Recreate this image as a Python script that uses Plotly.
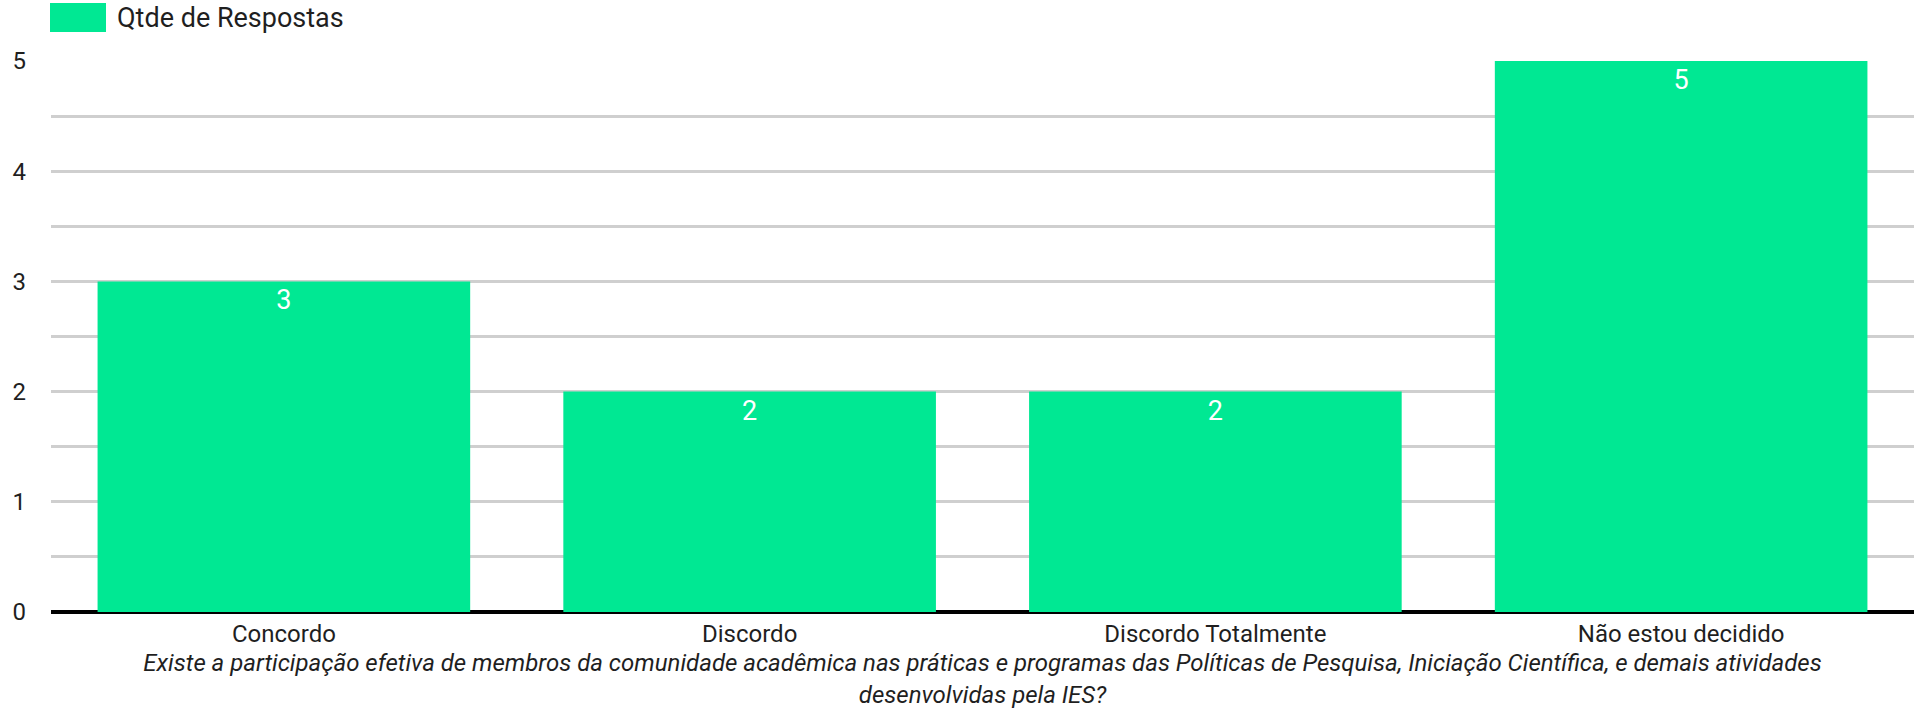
import plotly.graph_objects as go

categories = ["Concordo", "Discordo", "Discordo Totalmente", "Não estou decidido"]
values = [3, 2, 2, 5]
series_name = "Qtde de Respostas"
x_title = ("Existe a participação efetiva de membros da comunidade acadêmica nas práticas e programas das "
           "Políticas de Pesquisa, Iniciação Científica, e demais atividades<br>desenvolvidas pela IES?")
y_ticks = [0, 1, 2, 3, 4, 5]

GREEN = "#00e893"
FONT = "Roboto"
TXT = "#1f1f1f"

W, H = 1914, 711
L, R, T, B = 51, 0, 61, 99
PW, PH = W - L - R, H - T - B


def px_x(x):
    return (x - L) / PW


def px_y(y):
    return (H - B - y) / PH


fig = go.Figure()
fig.add_trace(go.Bar(
    x=categories, y=values, name=series_name,
    marker=dict(color=GREEN, line=dict(width=0)),
    text=[str(v) for v in values], textposition="inside", insidetextanchor="end",
    textfont=dict(color="white", size=27, family=FONT),
    showlegend=False,
))

fig.update_layout(
    width=W, height=H,
    margin=dict(l=L, r=R, t=T, b=B, autoexpand=False),
    paper_bgcolor="white", plot_bgcolor="white",
    font=dict(family=FONT, size=24, color=TXT),
    bargap=0.2,
    xaxis=dict(
        showgrid=False, ticks="", tickfont=dict(size=24, color=TXT), automargin=False,
        ticklabelstandoff=5,
        title=dict(text=x_title, font=dict(size=24, color=TXT, style="italic"), standoff=7),
    ),
    yaxis=dict(
        range=[0, 5], tickvals=y_ticks, showgrid=True, gridcolor="#cfcfcf", gridwidth=3,
        minor=dict(dtick=0.5, showgrid=True, gridcolor="#cfcfcf", gridwidth=3),
        zeroline=True, zerolinecolor="#000000", zerolinewidth=3.5, automargin=False,
        ticklabelstandoff=24, tickfont=dict(size=24, color=TXT),
    ),
    shapes=[dict(type="rect", xref="paper", yref="paper", x0=px_x(50), x1=px_x(106),
                 y0=px_y(32), y1=px_y(3), fillcolor=GREEN, line=dict(width=0))],
    annotations=[dict(text=series_name, xref="paper", yref="paper", x=px_x(115), y=px_y(18),
                      xanchor="left", yanchor="middle", showarrow=False,
                      font=dict(size=27, color=TXT, family=FONT))],
)

fig.write_html("out.html", config={"displayModeBar": False},
               post_script="document.body.style.margin='0';")
